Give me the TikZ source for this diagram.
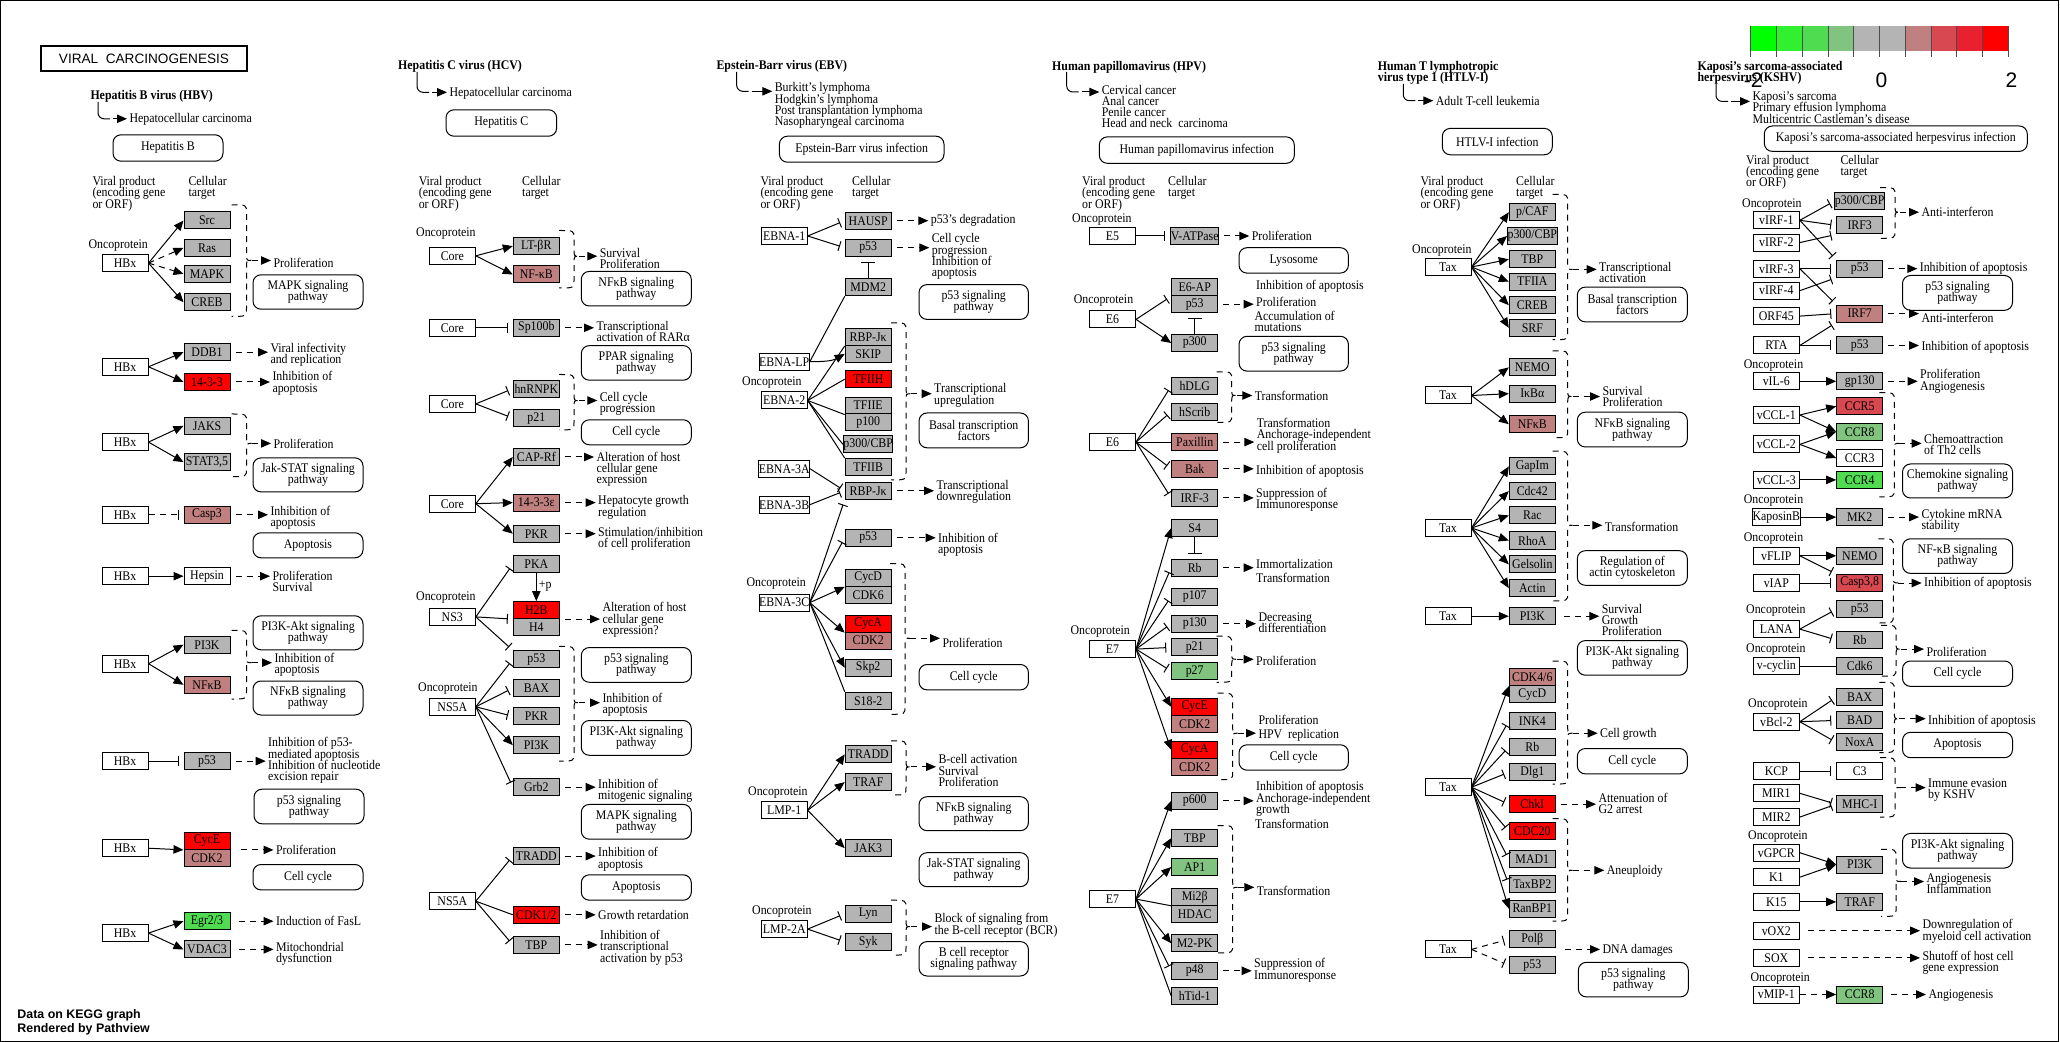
\documentclass[tikz,border=0pt]{standalone}
\usepackage{fontspec}
\setmainfont[FakeStretch=0.9]{Liberation Serif}
\setsansfont{Liberation Sans}
\usetikzlibrary{arrows.meta}
\definecolor{gry}{HTML}{B4B4B4}
\definecolor{pnk}{HTML}{C08080}
\definecolor{mred}{HTML}{D84850}
\definecolor{hred}{HTML}{FF0000}
\definecolor{lgrn}{HTML}{80C480}
\definecolor{bgrn}{HTML}{50DC50}
\definecolor{lg0}{HTML}{00FF00}
\definecolor{lg1}{HTML}{30F030}
\definecolor{lg2}{HTML}{50DC50}
\definecolor{lg3}{HTML}{80C480}
\definecolor{lg4}{HTML}{B4B4B4}
\definecolor{lg6}{HTML}{C08080}
\definecolor{lg7}{HTML}{D84850}
\definecolor{lg8}{HTML}{E82030}
\definecolor{lg9}{HTML}{FF0000}
\newcommand\kegg{\fontsize{6.6pt}{5.6pt}\selectfont\lineskiplimit=-4pt\lineskip=0pt\relax}
\tikzset{
  gene/.style={draw,fill=gry,minimum width=23pt,minimum height=8.5pt,inner sep=0pt},
  vir/.style={gene,fill=white},
  pw/.style={draw,rounded corners=4pt,align=center,inner sep=0pt},
  lbl/.style={anchor=west,align=left,inner xsep=1pt,inner ysep=0pt},
  ttl/.style={lbl,font=\kegg\bfseries,inner xsep=0pt},
  act/.style={-{Triangle[length=5pt,width=4.2pt]}},
  inh/.style={-{Bar[width=5pt]},shorten >=2.5pt},
  dsh/.style={dash pattern=on 3pt off 2.5pt},
  eff/.style={dsh,act,shorten <=2.5pt},
}
% boxes, labels and braces
\newcommand\gn[4][gry]{\node[gene,fill=#1] (#2) at (#3) {#4};}
\newcommand\vir[3]{\node[vir] (#1) at (#2) {#3};}
\newcommand\lab[3]{\node[lbl] (#1) at (#2) {#3};}
\newcommand\onco[2]{\node[lbl,inner xsep=0pt] (#1) at (#2) {Oncoprotein};}
\newcommand\pway[5]{\node[pw,minimum width=#3,minimum height=#4] (#1) at (#2) {#5};}
\newcommand\hdrs[4]{\node[lbl,inner xsep=0pt] (#1v) at (#2,#4) {Viral product\\(encoding gene\\or ORF)};
  \node[lbl,inner xsep=0pt] (#1c) at (#3,#4-5.6) {Cellular\\target};}
\newcommand\brk[5]{\draw[dsh] (#1-15,#2) .. controls (#1,#2) .. (#1,#2+8) -- (#1,#4-7) .. controls (#1,#4) .. (#1+5,#4)
  .. controls (#1,#4) .. (#1,#4+7) -- (#1,#3-8) .. controls (#1,#3) .. (#1-15,#3);
  \coordinate (#5) at (#1+5,#4);}
\newcommand\ledto[4]{\draw[rounded corners=3pt] (#1,#2) |- (#1+12,#3); \draw[act] (#1+15,#3) -- (#4.west |- #1,#3);}
\begin{document}
\begin{tikzpicture}[x=0.5pt,y=-0.5pt,line width=0.5pt,every node/.style={font=\kegg}]
\useasboundingbox (0,0) rectangle (2060,1042);
\draw (0.5,0.5) rectangle (2058.5,1041.5);
\node[draw,line width=1.2pt,minimum width=103pt,minimum height=12.6pt,inner sep=0pt,
  font=\sffamily\fontsize{6.8pt}{8pt}\selectfont] (title) at (144,58.5) {VIRAL\ \ CARCINOGENESIS};
\node[anchor=west,align=left,inner sep=0pt,font=\sffamily\bfseries\fontsize{6.2pt}{7pt}\selectfont] (kegg) at (17,1022.2)
  {Data on KEGG graph\\Rendered by Pathview};

% ---- Hepatitis B virus
\node[ttl] (hbv) at (90,96.3) {Hepatitis B virus (HBV)};
\lab{hbvd}{127,119.7}{Hepatocellular carcinoma}
\ledto{98}{102}{118.8}{hbvd}
\pway{hbvp}{168,148}{55pt}{13.2pt}{Hepatitis B}
\hdrs{hbvh}{92}{188}{193.7}
\onco{bo1}{88,245.4}
\vir{bx1}{125,263.1}{HBx}
\gn{bsrc}{207,220.5}{Src}
\gn{bras}{207,247.9}{Ras}
\gn{bmapk}{207,273.8}{MAPK}
\gn{bcreb}{207,302.2}{CREB}
\draw[act] (bx1.east) -- (bsrc.west);
\draw[act,dsh] (bx1.east) -- (bras.west);
\draw[act,dsh] (bx1.east) -- (bmapk.west);
\draw[act] (bx1.east) -- (bcreb.west);
\brk{246.5}{204.8}{316.4}{260.5}{bt1}
\lab{bl1}{271,263.2}{Proliferation}
\draw[eff,shorten <=0pt] (bt1) -- (bl1.west |- bt1);
\pway{bw1}{308,292}{55pt}{17.2pt}{MAPK signaling\\pathway}
\vir{bx2}{125,366.8}{HBx}
\gn{bddb1}{207,352.2}{DDB1}
\gn[hred]{b1433}{207,382}{14-3-3}
\draw[act] (bx2.east) -- (bddb1.west);
\draw[act] (bx2.east) -- (b1433.west);
\lab{bl2}{268,354.4}{Viral infectivity\\and replication}
\lab{bl3}{270,383.3}{Inhibition of\\apoptosis}
\draw[eff] (bddb1) -- (bl2.west |- bddb1);
\draw[eff] (b1433) -- (bl3.west |- b1433);
\vir{bx3}{125,442.1}{HBx}
\gn{bjak}{207,425.9}{JAKS}
\gn{bstat}{207,462.1}{STAT3,5}
\draw[act] (bx3.east) -- (bjak.west);
\draw[act] (bx3.east) -- (bstat.west);
\brk{246.5}{414}{476.6}{443.4}{bt2}
\lab{bl4}{271,444.1}{Proliferation}
\draw[eff,shorten <=0pt] (bt2) -- (bl4.west |- bt2);
\pway{bw2}{308,474.9}{55pt}{17pt}{Jak-STAT signaling\\pathway}
\vir{bx4}{125,514.8}{HBx}
\gn[pnk]{bcasp}{207,514.8}{Casp3}
\draw[inh,dsh] (bx4) -- (bcasp);
\lab{bl5}{268,517.6}{Inhibition of\\apoptosis}
\draw[eff] (bcasp) -- (bl5.west |- bcasp);
\pway{bw3}{308,545.3}{55pt}{12.5pt}{Apoptosis}
\vir{bx5}{125,576.2}{HBx}
\gn[white]{bhep}{207,576.2}{Hepsin}
\draw[act] (bx5) -- (bhep);
\lab{bl6}{270,581.3}{Proliferation\\Survival}
\draw[eff] (bhep) -- (bl6.west |- bhep);
\vir{bx6}{125,663.7}{HBx}
\gn{bpi3k}{207,644.7}{PI3K}
\gn[pnk]{bnfkb}{207,684.8}{NFκB}
\draw[act] (bx6.east) -- (bpi3k.west);
\draw[act] (bx6.east) -- (bnfkb.west);
\brk{246.5}{630.4}{699}{662.7}{bt3}
\lab{bl7}{272,664.7}{Inhibition of\\apoptosis}
\draw[eff,shorten <=0pt] (bt3) -- (bl7.west |- bt3);
\pway{bw4}{308,632.8}{55pt}{17pt}{PI3K-Akt signaling\\pathway}
\pway{bw5}{308,698}{55pt}{17pt}{NFκB signaling\\pathway}
\vir{bx7}{125,761.1}{HBx}
\gn{bp53}{207,761.1}{p53}
\draw[inh] (bx7) -- (bp53);
\lab{bl8}{265.7,760.4}{Inhibition of p53-\\mediated apoptosis\\Inhibition of nucleotide\\excision repair}
\draw[eff] (bp53) -- (bl8.west |- bp53);
\pway{bw6}{309,806.5}{55pt}{17.3pt}{p53 signaling\\pathway}
\vir{bx8}{125,848.2}{HBx}
\gn[hred]{bcyce}{207,840.9}{CycE}
\gn[pnk]{bcdk2}{207,857.8}{CDK2}
\draw[act] (bx8.east) -- (bcyce.south west);
\lab{bl9}{273.5,850}{Proliferation}
\draw[eff,shorten <=5pt] (bcyce.south east) -- (bl9.west |- bcyce.south east);
\pway{bw7}{308,877.2}{55pt}{12.7pt}{Cell cycle}
\vir{bx9}{125,933.1}{HBx}
\gn[bgrn]{begr}{207,921.2}{Egr2/3}
\gn{bvdac}{207,949.4}{VDAC3}
\draw[act] (bx9.east) -- (begr.west);
\draw[act] (bx9.east) -- (bvdac.west);
\lab{bl10}{273.5,921.2}{Induction of FasL}
\lab{bl11}{273.5,953.8}{Mitochondrial\\dysfunction}
\draw[eff,shorten <=4pt] (begr) -- (bl10.west |- begr);
\draw[eff,shorten <=4pt] (bvdac) -- (bl11.west |- bvdac);

% ---- Hepatitis C virus
\node[ttl] (hcv) at (397.7,66.6) {Hepatitis C virus (HCV)};
\lab{hcvd}{447,93}{Hepatocellular carcinoma}
\ledto{417}{72}{92.3}{hcvd}
\pway{hcvp}{501.3,123}{55.3pt}{13.2pt}{Hepatitis C}
\hdrs{hcvh}{418.3}{521.7}{193.7}
\onco{co1}{415.7,233.2}
\vir{cc1}{452.3,255.8}{Core}
\gn{cltb}{536.3,246.1}{LT-βR}
\gn[pnk]{cnfkb}{536.3,274.5}{NF-κB}
\draw[act] (cc1.east) -- (cltb.west);
\draw[act] (cc1.east) -- (cnfkb.west);
\brk{574}{230.5}{288}{256.2}{ct1}
\lab{cl1}{597.3,258.1}{Survival\\Proliferation}
\draw[eff,shorten <=0pt] (ct1) -- (cl1.west |- ct1);
\pway{cw1}{636.3,288.7}{55pt}{17.3pt}{NFκB signaling\\pathway}
\vir{cc2}{452.3,327.8}{Core}
\gn{csp}{536.3,327.8}{Sp100b}
\draw[inh] (cc2) -- (csp);
\lab{cl2}{594,331.6}{Transcriptional\\activation of RARα}
\draw[eff] (csp) -- (cl2.west |- csp);
\pway{cw2}{636.3,362.9}{55pt}{17.3pt}{PPAR signaling\\pathway}
\vir{cc3}{452.3,403.9}{Core}
\gn{chn}{536.3,388.7}{hnRNPK}
\gn{cp21}{536.3,418.1}{p21}
\draw[inh] (cc3.east) -- (chn.west);
\draw[inh] (cc3.east) -- (cp21.west);
\brk{574}{374.5}{429.9}{400.5}{ct2}
\lab{cl3}{597.3,403.6}{Cell cycle\\progression}
\draw[eff,shorten <=0pt] (ct2) -- (cl3.west |- ct2);
\pway{cw3}{636.3,432.3}{55pt}{12.5pt}{Cell cycle}
\vir{cc4}{452.3,503.7}{Core}
\gn{ccap}{536.3,457}{CAP-Rf}
\gn[pnk]{c1433}{536.3,502.6}{14-3-3ε}
\gn{cpkr}{536.3,533.7}{PKR}
\draw[act] (cc4.east) -- (ccap.west);
\draw[act] (cc4.east) -- (c1433.west);
\draw[act] (cc4.east) -- (cpkr.west);
\lab{cl4}{594,469.5}{Alteration of host\\cellular gene\\expression}
\lab{cl5}{595.7,507.3}{Hepatocyte growth\\regulation}
\lab{cl6}{595.7,539.2}{Stimulation/inhibition\\of cell proliferation}
\draw[eff] (ccap) -- (cl4.west |- ccap);
\draw[eff] (c1433) -- (cl5.west |- c1433);
\draw[eff] (cpkr) -- (cl6.west |- cpkr);
\onco{co2}{415.7,597.2}
\vir{cns3}{452.3,616.9}{NS3}
\gn{cpka}{536.3,564.3}{PKA}
\gn[hred]{ch2b}{536.3,610.1}{H2B}
\gn{ch4}{536.3,627.1}{H4}
\draw[inh] (cns3.east) -- (cpka.west);
\draw[inh] (cns3.east) -- (ch2b.south west);
\draw[act] (cpka) -- node[right=1pt,pos=0.45,inner sep=0pt] (cpp) {+p} (ch2b);
\lab{cl7}{600,619.9}{Alteration of host\\cellular gene\\expression?}
\draw[eff] (ch2b.south east) -- (cl7.west |- ch2b.south east);
\onco{co3}{417.7,688.1}
\vir{cns5a}{452.3,706.8}{NS5A}
\gn{cp53}{536.3,659.3}{p53}
\gn{cbax}{536.3,688.1}{BAX}
\gn{cpkr2}{536.3,716.3}{PKR}
\gn{cpi3k}{536.3,745.1}{PI3K}
\gn{cgrb2}{536.3,787.2}{Grb2}
\draw[inh] (cns3.east) -- (cp53.north west);
\draw[inh] (cns5a.east) -- (cp53.west);
\draw[inh] (cns5a.east) -- (cbax.west);
\draw[inh] (cns5a.east) -- (cpkr2.west);
\draw[act] (cns5a.east) -- (cpi3k.west);
\draw[inh] (cns5a.east) -- (cgrb2.west);
\brk{574}{646.4}{761.1}{702.7}{ct3}
\lab{cl8}{600,704.6}{Inhibition of\\apoptosis}
\draw[eff,shorten <=0pt] (ct3) -- (cl8.west |- ct3);
\pway{cw4}{636.3,664.9}{55pt}{17.4pt}{p53 signaling\\pathway}
\pway{cw5}{636.3,737.9}{55pt}{17.4pt}{PI3K-Akt signaling\\pathway}
\lab{cl9}{595.7,790.4}{Inhibition of\\mitogenic signaling}
\draw[eff] (cgrb2) -- (cl9.west |- cgrb2);
\pway{cw6}{636.3,821.8}{55pt}{17.4pt}{MAPK signaling\\pathway}
\vir{cns5b}{452.3,901.2}{NS5A}
\gn{ctradd}{536.3,856.1}{TRADD}
\gn[hred]{ccdk}{536.3,914.8}{CDK1/2}
\gn{ctbp}{536.3,944.9}{TBP}
\draw[inh] (cns5b.east) -- (ctradd.west);
\draw (cns5b.east) -- (ccdk.west);
\draw[inh] (cns5b.east) -- (ctbp.west);
\lab{cl10}{595.7,859.3}{Inhibition of\\apoptosis}
\draw[eff] (ctradd) -- (cl10.west |- ctradd);
\pway{cw7}{636.3,887.5}{55pt}{12.7pt}{Apoptosis}
\lab{cl11}{595.7,915.1}{Growth retardation}
\draw[eff] (ccdk) -- (cl11.west |- ccdk);
\lab{cl12}{597.7,947.7}{Inhibition of\\transcriptional\\activation by p53}
\draw[eff] (ctbp) -- (cl12.west |- ctbp);

% ---- Epstein-Barr virus
\node[ttl] (ebv) at (716,66.6) {Epstein-Barr virus (EBV)};
\lab{ebvd}{772.3,105.5}{Burkitt's lymphoma\\Hodgkin's lymphoma\\Post transplantation lymphoma\\Nasopharyngeal carcinoma}
\ledto{736.7}{72}{91.3}{ebvd}
\pway{ebvp}{861.7,149.2}{82.3pt}{13pt}{Epstein-Barr virus infection}
\hdrs{ebvh}{760}{851.7}{193.7}
\vir{eb1}{784.2,236}{EBNA-1}
\gn{ehau}{868.2,220.7}{HAUSP}
\gn{ep53a}{868.2,247.7}{p53}
\draw[inh] (eb1.east) -- (ehau.west);
\draw[inh] (eb1.east) -- (ep53a.west);
\lab{el1}{928.3,220.7}{p53's degradation}
\lab{el2}{929.3,256.5}{Cell cycle\\progression\\Inhibition of\\apoptosis}
\draw[eff] (ehau) -- (el1.west |- ehau);
\draw[eff] (ep53a) -- (el2.west |- ep53a);
\gn{emdm}{868.2,287.3}{MDM2}
\draw[inh,-{Bar[width=7pt]}] (emdm) -- (ep53a);
\pway{ew1}{973.7,302}{54.7pt}{17.4pt}{p53 signaling\\pathway}
\vir{elp}{784.2,361.7}{EBNA-LP}
\gn{erbp}{868.2,337}{RBP-Jκ}
\gn{eskip}{868.2,353.9}{SKIP}
\gn[hred]{etfh}{868.2,379.2}{TFIIH}
\gn{etfe}{868.2,405.6}{TFIIE}
\gn{ep100}{868.2,422.5}{p100}
\gn{ep300}{868.2,444.4}{p300/CBP}
\gn{etfb}{868.2,467.1}{TFIIB}
\draw (elp.east) -- (emdm.south west);
\draw[act] (elp.east) to[out=0,in=-150] (eskip.west);
\onco{eo1}{741.7,383}
\vir{eb2}{784.2,400.5}{EBNA-2}
\draw (eb2.east) -- (erbp.south west);
\draw (eb2.east) -- (etfh.west);
\draw (eb2.east) -- (etfe.south west);
\draw (eb2.east) -- (ep300.west);
\draw (eb2.east) -- (etfb.north west);
\brk{906}{322.8}{479.9}{393.7}{et1}
\lab{el3}{931.7,395.3}{Transcriptional\\upregulation}
\draw[eff,shorten <=0pt] (et1) -- (el3.west |- et1);
\pway{ew2}{973.7,430.4}{54.7pt}{17.4pt}{Basal transcription\\factors}
\vir{eb3a}{784.2,468.8}{EBNA-3A}
\vir{eb3b}{784.2,504.7}{EBNA-3B}
\gn{erbp2}{868.2,490.8}{RBP-Jκ}
\draw[inh] (eb3a.east) -- (erbp2.west);
\draw[inh] (eb3b.east) -- (erbp2.west);
\lab{el4}{934,491.5}{Transcriptional\\downregulation}
\draw[eff] (erbp2) -- (el4.west |- erbp2);
\onco{eo2}{746,584}
\vir{eb3c}{784.2,602.6}{EBNA-3C}
\gn{ep53b}{868.2,537.8}{p53}
\gn{ecycd}{868.2,577.9}{CycD}
\gn{ecdk6}{868.2,594.8}{CDK6}
\gn[hred]{ecyca}{868.2,623.7}{CycA}
\gn[pnk]{ecdk2}{868.2,640.6}{CDK2}
\gn{eskp2}{868.2,667.8}{Skp2}
\gn{es18}{868.2,700.7}{S18-2}
\draw[inh] (eb3c.east) -- (erbp2.south west);
\draw[inh] (eb3c.east) -- (ep53b.west);
\draw[act] (eb3c.east) -- (ecycd.south west);
\draw[act] (eb3c.east) -- (ecyca.south west);
\draw[act] (eb3c.east) -- (eskp2.west);
\draw (eb3c.east) -- (es18.north west);
\lab{el5}{935.7,544.4}{Inhibition of\\apoptosis}
\draw[eff] (ep53b) -- (el5.west |- ep53b);
\brk{905}{563.6}{714.3}{638.3}{et2}
\lab{el6}{940,643.1}{Proliferation}
\draw[eff,shorten <=0pt] (et2) -- (el6.west |- et2);
\pway{ew3}{973.7,677.2}{54.7pt}{12.7pt}{Cell cycle}
\onco{eo3}{747.7,792.7}
\vir{elmp1}{784.2,810.3}{LMP-1}
\gn{etradd}{868.2,754.3}{TRADD}
\gn{etraf}{868.2,782.1}{TRAF}
\gn{ejak3}{868.2,848.2}{JAK3}
\draw[act] (elmp1.east) -- (etradd.west);
\draw[act] (elmp1.east) -- (etraf.west);
\draw[act] (elmp1.east) -- (ejak3.west);
\brk{906}{740.8}{795}{766.8}{et3}
\lab{el7}{936,770.5}{B-cell activation\\Survival\\Proliferation}
\draw[eff,shorten <=0pt] (et3) -- (el7.west |- et3);
\pway{ew4}{973.7,813.7}{54.7pt}{17pt}{NFκB signaling\\pathway}
\pway{ew5}{973.7,869.7}{54.7pt}{17pt}{Jak-STAT signaling\\pathway}
\onco{eo4}{751.7,911.4}
\vir{elmp2}{784.2,929.1}{LMP-2A}
\gn{elyn}{868.2,913.8}{Lyn}
\gn{esyk}{868.2,941.9}{Syk}
\draw[inh] (elmp2.east) -- (elyn.west);
\draw[inh] (elmp2.east) -- (esyk.west);
\brk{906}{900.2}{955.1}{926.6}{et4}
\lab{el8}{932,925.3}{Block of signaling from\\the B-cell receptor (BCR)}
\draw[eff,shorten <=0pt] (et4) -- (el8.west |- et4);
\pway{ew6}{973.7,958.8}{54.7pt}{17.2pt}{B cell receptor\\signaling pathway}

% ---- Human papillomavirus
\node[ttl] (hpv) at (1051.7,66.9) {Human papillomavirus (HPV)};
\lab{hpvd}{1099.3,106.5}{Cervical cancer\\Anal cancer\\Penile cancer\\Head and neck\ \ carcinoma}
\ledto{1066.7}{72}{92}{hpvd}
\pway{hpvp}{1196.8,150.1}{97.5pt}{13.2pt}{Human papillomavirus infection}
\hdrs{hpvh}{1081.7}{1167.7}{193.7}
\onco{ho1}{1071.7,220}
\vir{he5}{1112.5,236}{E5}
\gn{hvat}{1194.7,236}{V-ATPase}
\draw[inh] (he5) -- (hvat);
\lab{hl1}{1249.3,236}{Proliferation}
\draw[eff] (hvat) -- (hl1.west |- hvat);
\pway{hw1}{1293.7,260.4}{54.7pt}{12.7pt}{Lysosome}
\onco{ho2}{1073.3,300.9}
\vir{he6a}{1112.5,319.4}{E6}
\gn{he6ap}{1194.7,287.3}{E6-AP}
\gn{hp53}{1194.7,304.2}{p53}
\gn{hp300}{1194.7,343}{p300}
\draw[inh] (he6a.east) -- (he6ap.south west);
\draw[act] (he6a.east) -- (hp300.west);
\draw[inh,-{Bar[width=7pt]}] (hp300) -- (hp53);
\lab{hl2}{1253.7,286.7}{Inhibition of apoptosis}
\lab{hl3}{1253.7,301.5}{Proliferation}
\lab{hl4}{1252,321.4}{Accumulation of\\mutations}
\draw[eff] (hp53) -- (hl3.west |- hp53);
\pway{hw2}{1293.7,353.7}{54.7pt}{17.4pt}{p53 signaling\\pathway}
\vir{he6b}{1112.5,442.1}{E6}
\gn{hdlg}{1194.7,386}{hDLG}
\gn{hscr}{1194.7,411.7}{hScrib}
\gn[pnk]{hpax}{1194.7,442.1}{Paxillin}
\gn[pnk]{hbak}{1194.7,468.8}{Bak}
\gn{hirf}{1194.7,497.9}{IRF-3}
\draw[inh] (he6b.east) -- (hdlg.west);
\draw[inh] (he6b.east) -- (hscr.west);
\draw (he6b) -- (hpax);
\draw[inh] (he6b.east) -- (hbak.west);
\draw[inh] (he6b.east) -- (hirf.west);
\brk{1231.7}{371.8}{422.5}{395.5}{ht1}
\lab{hl5}{1252.3,395.5}{Transformation}
\draw[eff,shorten <=0pt] (ht1) -- (hl5.west |- ht1);
\lab{hl6}{1254.3,435.7}{Transformation\\Anchorage-independent\\cell proliferation}
\draw[eff] (hpax) -- (hl6.west |- hpax);
\lab{hl7}{1253.7,471.5}{Inhibition of apoptosis}
\draw[eff] (hbak) -- (hl7.west |- hbak);
\lab{hl8}{1253.7,499.7}{Suppression of\\Immunoresponse}
\draw[eff] (hirf) -- (hl8.west |- hirf);
\onco{ho3}{1070,631.1}
\vir{he7a}{1112.5,649.1}{E7}
\gn{hs4}{1194.7,528}{S4}
\gn{hrb}{1194.7,567.7}{Rb}
\gn{hp107}{1194.7,596.5}{p107}
\gn{hp130}{1194.7,623.7}{p130}
\gn{hp21}{1194.7,647.4}{p21}
\gn[lgrn]{hp27}{1194.7,671.1}{p27}
\gn[hred]{hcyce}{1194.7,706.8}{CycE}
\gn[pnk]{hcdk2a}{1194.7,723.8}{CDK2}
\gn[hred]{hcyca}{1194.7,749.9}{CycA}
\gn[pnk]{hcdk2b}{1194.7,766.8}{CDK2}
\draw[act] (he7a.east) -- (hs4.west);
\draw[inh] (he7a.east) -- (hrb.west);
\draw[inh] (he7a.east) -- (hp107.west);
\draw[inh] (he7a.east) -- (hp130.west);
\draw[inh] (he7a.east) -- (hp21.west);
\draw[inh] (he7a.east) -- (hp27.west);
\draw[act] (he7a.east) -- (hcyce.west);
\draw[act] (he7a.east) -- (hcyca.west);
\draw[inh,-{Bar[width=7pt]}] (hs4) -- (hrb);
\lab{hl9}{1253.7,571.1}{Immortalization\\[1.2pt]Transformation}
\draw[eff] (hrb) -- (hl9.west |- hrb);
\lab{hl10}{1256,622.4}{Decreasing\\differentiation}
\draw[eff] (hp130) -- (hl10.west |- hp130);
\brk{1231.7}{636.2}{682.3}{659.3}{ht2}
\lab{hl11}{1253.7,661}{Proliferation}
\draw[eff,shorten <=0pt] (ht2) -- (hl11.west |- ht2);
\brk{1232.7}{693.2}{779.7}{733.2}{ht3}
\lab{hl12}{1256,728.5}{Proliferation\\[1.2pt]HPV\ \ replication}
\draw[eff,shorten <=0pt] (ht3) -- (hl12.west |- ht3);
\pway{hw3}{1293.7,757.5}{54.7pt}{12.7pt}{Cell cycle}
\vir{he7b}{1112.5,899.1}{E7}
\gn{hp600}{1194.7,800.8}{p600}
\gn{htbp}{1194.7,838.1}{TBP}
\gn[lgrn]{hap1}{1194.7,867}{AP1}
\gn{hmi2}{1194.7,896.8}{Mi2β}
\gn{hhdac}{1194.7,913.8}{HDAC}
\gn{hm2pk}{1194.7,943.3}{M2-PK}
\gn{hp48}{1194.7,970.8}{p48}
\gn{htid}{1194.7,995.8}{hTid-1}
\draw[act] (he7b.east) -- (hp600.west);
\draw[act] (he7b.east) -- (htbp.west);
\draw[act] (he7b.east) -- (hap1.west);
\draw (he7b.east) -- (hmi2.south west);
\draw[act] (he7b.east) -- (hm2pk.west);
\draw[inh] (he7b.east) -- (hp48.west);
\draw (he7b.east) -- (htid.west);
\lab{hl13}{1253.7,798.8}{Inhibition of apoptosis\\Anchorage-independent\\growth}
\draw[eff] (hp600) -- (hl13.west |- hp600);
\lab{hl14}{1252.7,823.8}{Transformation}
\brk{1232.7}{825.5}{952.8}{887.3}{ht4}
\lab{hl15}{1254.3,890.7}{Transformation}
\draw[eff,shorten <=0pt] (ht4) -- (hl15.west |- ht4);
\lab{hl16}{1251.7,970.3}{Suppression of\\Immunoresponse}
\draw[eff] (hp48) -- (hl16.west |- hp48);

% ---- Human T lymphotropic virus type 1
\node[ttl] (htl) at (1377.3,72.7) {Human T lymphotropic\\virus type 1 (HTLV-I)};
\lab{htld}{1433.3,101.4}{Adult T-cell leukemia}
\ledto{1403.3}{84}{100.7}{htld}
\pway{htlp}{1497.3,141.6}{55pt}{13.2pt}{HTLV-I infection}
\hdrs{htlh}{1420}{1515.7}{193.7}
\onco{to1}{1411.7,250.2}
\vir{tx1}{1448,267}{Tax}
\gn{tpcaf}{1532.3,212.2}{p/CAF}
\gn{tp300}{1532.3,236}{p300/CBP}
\gn{ttbp}{1532.3,259.3}{TBP}
\gn{ttfa}{1532.3,281.6}{TFIIA}
\gn{tcreb}{1532.3,305.2}{CREB}
\gn{tsrf}{1532.3,327.8}{SRF}
\draw[act] (tx1.east) -- (tpcaf.west);
\draw[act] (tx1.east) -- (tp300.west);
\draw[act] (tx1.east) -- (ttbp.west);
\draw[act] (tx1.east) -- (ttfa.west);
\draw[act] (tx1.east) -- (tcreb.west);
\draw[act] (tx1.east) -- (tsrf.west);
\brk{1567.7}{194.4}{339.7}{269.4}{tt1}
\lab{tl1}{1596.7,272.5}{Transcriptional\\activation}
\draw[eff,shorten <=0pt] (tt1) -- (tl1.west |- tt1);
\pway{tw1}{1632.3,304.5}{55pt}{17.4pt}{Basal transcription\\factors}
\vir{tx2}{1448,395.5}{Tax}
\gn{tnemo}{1532.3,367.4}{NEMO}
\gn{tikb}{1532.3,393.7}{IκBα}
\gn[pnk]{tnfkb}{1532.3,424.2}{NFκB}
\draw[act] (tx2.east) -- (tnemo.west);
\draw[act] (tx2.east) -- (tikb.west);
\draw[act] (tx2.east) -- (tnfkb.west);
\brk{1567.7}{350.8}{437.7}{396.5}{tt2}
\lab{tl2}{1600,396.8}{Survival\\Proliferation}
\draw[eff,shorten <=0pt] (tt2) -- (tl2.west |- tt2);
\pway{tw2}{1632.3,429.6}{55pt}{17.4pt}{NFκB signaling\\pathway}
\vir{tx3}{1448,528}{Tax}
\gn{tgap}{1532.3,466.4}{GapIm}
\gn{tcdc}{1532.3,491.1}{Cdc42}
\gn{trac}{1532.3,515.4}{Rac}
\gn{trho}{1532.3,540.5}{RhoA}
\gn{tgel}{1532.3,564.3}{Gelsolin}
\gn{tact}{1532.3,588.1}{Actin}
\draw[act] (tx3.east) -- (tgap.west);
\draw[act] (tx3.east) -- (tcdc.west);
\draw[act] (tx3.east) -- (trac.west);
\draw[act] (tx3.east) -- (trho.west);
\draw[act] (tx3.east) -- (tgel.west);
\draw[act] (tx3.east) -- (tact.west);
\brk{1567.7}{451.2}{600.9}{525.3}{tt3}
\lab{tl3}{1602.3,527}{Transformation}
\draw[eff,shorten <=0pt] (tt3) -- (tl3.west |- tt3);
\pway{tw3}{1632.3,568}{55pt}{17.3pt}{Regulation of\\actin cytoskeleton}
\vir{tx4}{1448,616.2}{Tax}
\gn{tpi3k}{1532.3,616.2}{PI3K}
\draw[act] (tx4) -- (tpi3k);
\lab{tl4}{1599.3,619.9}{Survival\\Growth\\Proliferation}
\draw[eff,shorten <=4pt] (tpi3k) -- (tl4.west |- tpi3k);
\pway{tw4}{1632.3,657.9}{55pt}{17.3pt}{PI3K-Akt signaling\\pathway}
\vir{tx5}{1448,787.2}{Tax}
\gn[pnk]{tcdk}{1532.3,677.2}{CDK4/6}
\gn{tcycd}{1532.3,694.2}{CycD}
\gn{tink}{1532.3,721}{INK4}
\gn{trb}{1532.3,746.9}{Rb}
\gn{tdlg}{1532.3,772.3}{Dlg1}
\gn[hred]{tchk}{1532.3,804.2}{ChkI}
\gn[hred]{tcdc20}{1532.3,831.3}{CDC20}
\gn{tmad}{1532.3,859.4}{MAD1}
\gn{ttbp2}{1532.3,884.3}{TaxBP2}
\gn{tran}{1532.3,908.7}{RanBP1}
\draw[act] (tx5.east) -- (tcdk.south west);
\draw[inh] (tx5.east) -- (tink.west);
\draw[inh] (tx5.east) -- (trb.west);
\draw[inh] (tx5.east) -- (tdlg.west);
\draw[inh] (tx5.east) -- (tchk.west);
\draw[inh] (tx5.east) -- (tcdc20.west);
\draw[inh] (tx5.east) -- (tmad.west);
\draw[inh] (tx5.east) -- (ttbp2.west);
\draw[act] (tx5.east) -- (tran.west);
\brk{1567.7}{661}{784.1}{733.2}{tt4}
\lab{tl5}{1597.7,733.9}{Cell growth}
\draw[eff,shorten <=0pt] (tt4) -- (tl5.west |- tt4);
\pway{tw5}{1632.3,761.2}{55pt}{12.7pt}{Cell cycle}
\lab{tl6}{1596,803.2}{Attenuation of\\G2 arrest}
\draw[eff] (tchk) -- (tl6.west |- tchk);
\brk{1567.7}{818.7}{921.2}{870.3}{tt5}
\lab{tl7}{1604.3,871.4}{Aneuploidy}
\draw[eff,shorten <=0pt] (tt5) -- (tl7.west |- tt5);
\vir{tx6}{1448,949.4}{Tax}
\gn{tpol}{1532.3,939.2}{Polβ}
\gn{tp53}{1532.3,965.3}{p53}
\draw[inh,dsh] (tx6.east) -- (tpol.west);
\draw[inh,dsh] (tx6.east) -- (tp53.west);
\coordinate (tdna) at (1565,949.4);
\lab{tl8}{1600,950.8}{DNA damages}
\draw[eff,shorten <=0pt] (tdna) -- (tl8.west |- tdna);
\pway{tw6}{1633.3,979.6}{55pt}{17.3pt}{p53 signaling\\pathway}

% ---- Kaposi's sarcoma-associated herpesvirus
\node[ttl] (ksh) at (1697,72.7) {Kaposi's sarcoma-associated\\herpesvirus (KSHV)};
\lab{kshd}{1750,107.5}{Kaposi's sarcoma\\Primary effusion lymphoma\\Multicentric Castleman's disease}
\ledto{1716}{84}{101.4}{kshd}
\pway{kshp}{1895.8,138.7}{131.5pt}{12.7pt}{Kaposi's sarcoma-associated herpesvirus infection}
\hdrs{kshh}{1745.7}{1840}{172.1}
\onco{ko1}{1741.7,204.5}
\vir{kv1}{1776.3,220.3}{vIRF-1}
\vir{kv2}{1776.3,242.6}{vIRF-2}
\vir{kv3}{1776.3,268.7}{vIRF-3}
\vir{kv4}{1776.3,290.7}{vIRF-4}
\vir{korf}{1776.3,316.1}{ORF45}
\vir{krta}{1776.3,345.5}{RTA}
\gn{kp300}{1859.7,201.1}{p300/CBP}
\gn{kirf3}{1859.7,225.4}{IRF3}
\gn{kp53a}{1859.7,268.7}{p53}
\gn[pnk]{kirf7}{1859.7,313.6}{IRF7}
\gn{kp53b}{1859.7,345.5}{p53}
\draw[inh] (kv1.east) -- (kp300.west);
\draw[inh] (kv1.east) -- (kirf3.west);
\draw[inh] (kv1.east) -- (kp53a.north west);
\draw[inh] (kv2.east) -- (kirf3.south west);
\draw[inh] (kv3.east) -- (kp53a.west);
\draw[inh] (kv3.east) -- (kirf7.north west);
\draw[inh] (kv4.east) -- (kp53a.south west);
\draw[inh] (korf.east) -- (kirf7.west);
\draw[inh] (krta.east) -- (kirf7.south west);
\draw[inh] (krta.east) -- (kp53b.west);
\brk{1895}{187.6}{238.3}{212.2}{kt1}
\lab{kl1}{1919,212.2}{Anti-interferon}
\draw[eff,shorten <=0pt] (kt1) -- (kl1.west |- kt1);
\lab{kl2}{1917.3,268}{Inhibition of apoptosis}
\draw[eff] (kp53a) -- (kl2.west |- kp53a);
\pway{kw1}{1957.5,292.9}{55pt}{17.4pt}{p53 signaling\\pathway}
\lab{kl3}{1919,317.7}{Anti-interferon}
\draw[eff] (kirf7) -- (kl3.west |- kirf7);
\lab{kl4}{1919,347.5}{Inhibition of apoptosis}
\draw[eff] (kp53b) -- (kl4.west |- kp53b);
\onco{ko2}{1743.3,365.7}
\vir{kil6}{1776.3,381.3}{vIL-6}
\gn{kgp}{1859.7,381.3}{gp130}
\draw[act] (kil6) -- (kgp);
\lab{kl5}{1917.7,381.3}{Proliferation\\Angiogenesis}
\draw[eff] (kgp) -- (kl5.west |- kgp);
\vir{kcl1}{1776.3,415}{vCCL-1}
\vir{kcl2}{1776.3,444.4}{vCCL-2}
\vir{kcl3}{1776.3,479.9}{vCCL-3}
\gn[mred]{kccr5}{1859.7,406.3}{CCR5}
\gn[lgrn]{kccr8}{1859.7,431.7}{CCR8}
\gn[white]{kccr3}{1859.7,458}{CCR3}
\gn[bgrn]{kccr4}{1859.7,479.9}{CCR4}
\draw[act] (kcl1.east) -- (kccr5.west);
\draw[act] (kcl1.east) -- (kccr8.west);
\draw[act] (kcl2.east) -- (kccr8.west);
\draw[act] (kcl2.east) -- (kccr3.west);
\draw[act] (kcl3) -- (kccr4);
\brk{1894.3}{392.7}{496.9}{443.4}{kt2}
\lab{kl6}{1921.7,444.4}{Chemoattraction\\of Th2 cells}
\draw[eff,shorten <=0pt] (kt2) -- (kl6.west |- kt2);
\pway{kw2}{1957.5,481}{55pt}{17pt}{Chemokine signaling\\pathway}
\onco{ko3}{1743.3,500.9}
\vir{kkap}{1776.3,517.1}{KaposinB}
\gn{kmk2}{1859.7,517.1}{MK2}
\draw[act] (kkap) -- (kmk2);
\lab{kl7}{1919,521.2}{Cytokine mRNA\\stability}
\draw[eff] (kmk2) -- (kl7.west |- kmk2);
\onco{ko4}{1743.3,538.8}
\vir{kflip}{1776.3,555.8}{vFLIP}
\vir{kiap}{1776.3,583}{vIAP}
\gn{knemo}{1859.7,555.8}{NEMO}
\gn[mred]{kcasp}{1859.7,583}{Casp3,8}
\draw[act] (kflip) -- (knemo);
\draw[inh] (kflip.east) -- (kcasp.north west);
\draw[inh] (kiap) -- (kcasp);
\onco{ko5}{1745.7,610.8}
\vir{klana}{1776.3,629.1}{LANA}
\gn{kp53c}{1859.7,609.4}{p53}
\gn{krb}{1859.7,640}{Rb}
\draw[inh] (klana.east) -- (kp53c.west);
\draw[inh] (klana.east) -- (krb.west);
\brk{1893.3}{538.8}{623}{583}{kt3}
\lab{kl8}{1921.7,583.6}{Inhibition of apoptosis}
\draw[eff,shorten <=0pt] (kt3) -- (kl8.west |- kt3);
\pway{kw3}{1957.5,556.1}{55pt}{17.3pt}{NF-κB signaling\\pathway}
\onco{ko6}{1745.7,649.8}
\vir{kcyc}{1776.3,666}{v-cyclin}
\gn{kcdk6}{1859.7,666}{Cdk6}
\draw (kcyc) -- (kcdk6);
\brk{1896}{625.3}{676.2}{649.1}{kt4}
\lab{kl9}{1924,651.5}{Proliferation}
\draw[eff,shorten <=0pt] (kt4) -- (kl9.west |- kt4);
\pway{kw4}{1957.5,673.7}{55pt}{12.7pt}{Cell cycle}
\onco{ko7}{1747.7,704.1}
\vir{kbcl}{1776.3,721.7}{vBcl-2}
\gn{kbax}{1859.7,697.3}{BAX}
\gn{kbad}{1859.7,720.4}{BAD}
\gn{knox}{1859.7,742.4}{NoxA}
\draw[inh] (kbcl.east) -- (kbax.west);
\draw[inh] (kbcl.east) -- (kbad.west);
\draw[inh] (kbcl.east) -- (knox.west);
\brk{1894.3}{682.3}{752.6}{718.7}{kt5}
\lab{kl10}{1925.7,721}{Inhibition of apoptosis}
\draw[eff,shorten <=0pt] (kt5) -- (kl10.west |- kt5);
\pway{kw5}{1957.5,745}{55pt}{12.7pt}{Apoptosis}
\vir{kkcp}{1776.3,771.3}{KCP}
\vir{kmir1}{1776.3,793.3}{MIR1}
\vir{kmir2}{1776.3,817.1}{MIR2}
\gn[white]{kc3}{1859.7,771.3}{C3}
\gn{kmhc}{1859.7,804.2}{MHC-I}
\draw[inh] (kkcp) -- (kc3);
\draw[inh] (kmir1.east) -- (kmhc.west);
\draw[inh] (kmir2.east) -- (kmhc.west);
\brk{1895}{757.7}{817.1}{787.6}{kt6}
\lab{kl11}{1925.7,790.4}{Immune evasion\\by KSHV}
\draw[eff,shorten <=0pt] (kt6) -- (kl11.west |- kt6);
\onco{ko8}{1747.7,836.7}
\vir{kgpcr}{1776.3,852.7}{vGPCR}
\vir{kk1}{1776.3,877.2}{K1}
\vir{kk15}{1776.3,901.9}{K15}
\gn{kpi3k}{1859.7,864.5}{PI3K}
\gn{ktraf}{1859.7,901.9}{TRAF}
\draw[act] (kgpcr.east) -- (kpi3k.west);
\draw[act] (kk1.east) -- (kpi3k.west);
\draw[act] (kk15) -- (ktraf);
\brk{1896}{849.3}{916.4}{881.5}{kt7}
\lab{kl12}{1924,883.6}{Angiogenesis\\Inflammation}
\draw[eff,shorten <=0pt] (kt7) -- (kl12.west |- kt7);
\pway{kw6}{1957.5,850.7}{55pt}{17.3pt}{PI3K-Akt signaling\\pathway}
\vir{kox2}{1776.3,930.7}{vOX2}
\lab{kl13}{1920,931.2}{Downregulation of\\myeloid cell activation}
\draw[eff,shorten <=4pt] (kox2) -- (kl13.west |- kox2);
\vir{ksox}{1776.3,957.9}{SOX}
\lab{kl14}{1920,962.5}{Shutoff of host cell\\gene expression}
\draw[eff,shorten <=4pt] (ksox) -- (kl14.west |- ksox);
\onco{ko9}{1750,978.2}
\vir{kmip}{1776.3,994.5}{vMIP-1}
\gn[lgrn]{kccr8b}{1859.7,994.5}{CCR8}
\draw[act,dsh] (kmip) -- (kccr8b);
\lab{kl15}{1926,995.2}{Angiogenesis}
\draw[eff,shorten <=4pt] (kccr8b) -- (kl15.west |- kccr8b);

% ---- colour key
\fill[lg0] (1750.7,26) rectangle (1776.5,51.4);
\fill[lg1] (1776.5,26) rectangle (1802.2,51.4);
\fill[lg2] (1802.2,26) rectangle (1828,51.4);
\fill[lg3] (1828,26) rectangle (1853.7,51.4);
\fill[lg4] (1853.7,26) rectangle (1905.3,51.4);
\fill[lg6] (1905.3,26) rectangle (1931,51.4);
\fill[lg7] (1931,26) rectangle (1956.8,51.4);
\fill[lg8] (1956.8,26) rectangle (1982.5,51.4);
\fill[lg9] (1982.5,26) rectangle (2008.3,51.4);
\draw[black!70] (1750.7,26) -- ++(0,31.5) (1776.5,26) -- ++(0,31.5) (1802.2,26) -- ++(0,31.5)
  (1828,26) -- ++(0,31.5) (1853.7,26) -- ++(0,31.5) (1879.5,26) -- ++(0,31.5) (1905.3,26) -- ++(0,31.5)
  (1931,26) -- ++(0,31.5) (1956.8,26) -- ++(0,31.5) (1982.5,26) -- ++(0,31.5) (2008.3,26) -- ++(0,31.5);
\node[font=\sffamily\fontsize{10.5pt}{12pt}\selectfont,inner sep=0pt] (keymin) at (1753.2,80) {-2};
\node[font=\sffamily\fontsize{10.5pt}{12pt}\selectfont,inner sep=0pt] (keymid) at (1881.5,80) {0};
\node[font=\sffamily\fontsize{10.5pt}{12pt}\selectfont,inner sep=0pt] (keymax) at (2011.5,80) {2};
\end{tikzpicture}
\end{document}
